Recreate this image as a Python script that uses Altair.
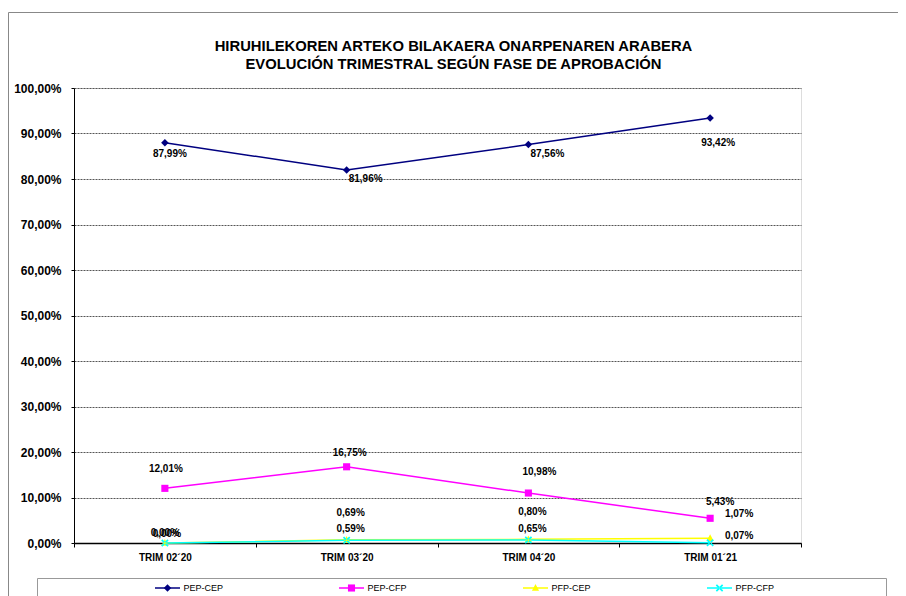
import altair as alt
import pandas as pd

# ---- data (percent values) ----
categories = ["TRIM 02´20", "TRIM 03´20", "TRIM 04´20", "TRIM 01´21"]
series_names = ["PEP-CEP", "PEP-CFP", "PFP-CEP", "PFP-CFP"]
pep_cep = [87.99, 81.96, 87.56, 93.42]
pep_cfp = [12.01, 16.75, 10.98, 5.43]
pfp_cep = [0.00, 0.69, 0.80, 1.07]
pfp_cfp = [0.00, 0.59, 0.65, 0.07]
y_ticks = [0, 10, 20, 30, 40, 50, 60, 70, 80, 90, 100]

title_lines = ["HIRUHILEKOREN ARTEKO BILAKAERA ONARPENAREN ARABERA",
               "EVOLUCIÓN TRIMESTRAL SEGÚN FASE DE APROBACIÓN"]

values = [pep_cep, pep_cfp, pfp_cep, pfp_cfp]
rows = []
for s, vals in zip(series_names, values):
    for i, (c, v) in enumerate(zip(categories, vals)):
        rows.append({"serie": s, "trim": c, "idx": i, "valor": v,
                     "etiqueta": f"{v:.2f}".replace(".", ",") + "%"})
df = pd.DataFrame(rows)
legend_df = pd.DataFrame({"serie": series_names})

# ---- styles ----
colors = ["#000080", "#FF00FF", "#FFFF00", "#00FFFF"]
shape_paths = [
    "M0,-1L1,0L0,1L-1,0Z",
    "M-0.95,-0.95H0.95V0.95H-0.95Z",
    "M0,-1.05L0.95,0.75H-0.95Z",
    "M-0.68,-1L1,0.68L0.68,1L-1,-0.68ZM0.68,-1L-1,0.68L-0.68,1L1,-0.68Z",
]
FONT = "Liberation Sans"
W, H = 727, 455
MARKER = 56

color_scale = alt.Scale(domain=series_names, range=colors)
shape_scale = alt.Scale(domain=series_names, range=shape_paths)

x_scale = alt.Scale(domain=categories, paddingInner=0, paddingOuter=0)
x_enc = alt.X("trim:N", sort=categories, title=None, scale=x_scale,
              axis=alt.Axis(labelAngle=0, labelFont=FONT, labelFontSize=10,
                            labelFontWeight="bold", labelColor="#000",
                            domainColor="#000", domainWidth=1.5, tickColor="#000",
                            tickSize=4, tickBand="extent", labelPadding=5, grid=False))
x_plain = alt.X("trim:N", sort=categories, scale=x_scale)
y_enc = alt.Y("valor:Q", title=None,
              scale=alt.Scale(domain=[0, 100], nice=False, zero=True),
              axis=alt.Axis(values=y_ticks, labelFont=FONT, labelFontSize=12,
                            labelFontWeight="bold", labelColor="#000",
                            labelExpr="replace(format(datum.value, '.2f'), '.', ',') + '%'",
                            domainColor="#000", domainWidth=1, tickColor="#000",
                            tickSize=3, labelPadding=10, grid=True,
                            gridColor="#555555", gridDash=[2, 1], gridWidth=1))

base = alt.Chart(df)

lines = base.mark_line(strokeWidth=1.5).encode(
    x=x_enc, y=y_enc,
    color=alt.Color("serie:N", scale=color_scale, legend=None),
    detail="serie:N",
    order=alt.Order("idx:Q"),
)

points = base.mark_point(filled=True, size=MARKER, opacity=1, strokeWidth=0).encode(
    x=x_plain, y="valor:Q",
    color=alt.Color("serie:N", scale=color_scale, legend=None),
    shape=alt.Shape("serie:N", scale=shape_scale, legend=None),
)

# label placement rules: (series, categories, dx, dy)
label_rules = [
    ("PEP-CEP", categories[:1], 5, 11),
    ("PEP-CEP", categories[1:3], 19, 9),
    ("PEP-CEP", categories[3:], 8, 25),
    ("PEP-CFP", categories[:1], 1, -19),
    ("PEP-CFP", categories[1:2], 3, -14),
    ("PEP-CFP", categories[2:3], 11, -21),
    ("PEP-CFP", categories[3:], 10, -16),
    ("PFP-CEP", categories[:1], 0, -10),
    ("PFP-CEP", categories[1:3], 4, -27),
    ("PFP-CEP", categories[3:], 29, -24),
    ("PFP-CFP", categories[:1], 2, -9),
    ("PFP-CFP", categories[1:3], 4, -11),
    ("PFP-CFP", categories[3:], 29, -7),
]
label_layers = []
for s, cats, dx, dy in label_rules:
    label_layers.append(
        base.mark_text(font=FONT, fontSize=10, fontWeight="bold", color="#000",
                       dx=dx, dy=dy).encode(
            x=x_plain, y="valor:Q", text="etiqueta:N"
        ).transform_filter(
            alt.FieldEqualPredicate(field="serie", equal=s)
        ).transform_filter(
            alt.FieldOneOfPredicate(field="trim", oneOf=list(cats))
        )
    )

main = alt.layer(lines, points, *label_layers)

# ---- legend (built as a small layer of its own) ----
LEG_Y = 500
leg_x = alt.X("serie:N", sort=series_names, axis=None,
              scale=alt.Scale(type="point", domain=series_names, range=[93.5, 645.5], padding=0))
leg_base = alt.Chart(legend_df)
leg_box = alt.Chart(pd.DataFrame({"k": [0]})).mark_rect(
    fill="white", stroke="#999999", strokeWidth=1
).encode(x=alt.value(-36.5), x2=alt.value(812.5), y=alt.value(490.5), y2=alt.value(H + 200))
leg_lines = leg_base.mark_rule(strokeWidth=1.5, xOffset=-12.5, x2Offset=12.5).encode(
    x=leg_x, x2=alt.X2("serie:N"), y=alt.value(LEG_Y),
    color=alt.Color("serie:N", scale=color_scale, legend=None),
)
leg_pts = leg_base.mark_point(filled=True, size=MARKER, opacity=1, strokeWidth=0).encode(
    x=leg_x, y=alt.value(LEG_Y),
    color=alt.Color("serie:N", scale=color_scale, legend=None),
    shape=alt.Shape("serie:N", scale=shape_scale, legend=None),
)
leg_text = leg_base.mark_text(font=FONT, fontSize=9, color="#000", align="left",
                              baseline="middle", dx=16).encode(
    x=leg_x, y=alt.value(LEG_Y), text="serie:N",
)
legend_layer = alt.layer(leg_box, leg_lines, leg_pts, leg_text)

frame = alt.Chart(pd.DataFrame({"k": [0]})).mark_rect(
    fill=None, stroke="#888888", strokeWidth=1
).encode(x=alt.value(-65.5), x2=alt.value(W + 200), y=alt.value(-75.5), y2=alt.value(H + 200))

chart = alt.layer(frame, main, legend_layer).resolve_scale(x="independent").properties(
    width=W, height=H,
    title=alt.Title(title_lines, font=FONT, fontSize=14.8, fontWeight="bold", color="#000",
                    anchor="middle", dx=16, offset=-60, lineHeight=18),
    padding={"left": 66, "top": 80, "right": 97, "bottom": 53},
    autosize=alt.AutoSizeParams(type="none"),
).configure_view(stroke=None).configure(background="white")

chart.save("out.html", embed_options={"renderer": "svg", "actions": False})
